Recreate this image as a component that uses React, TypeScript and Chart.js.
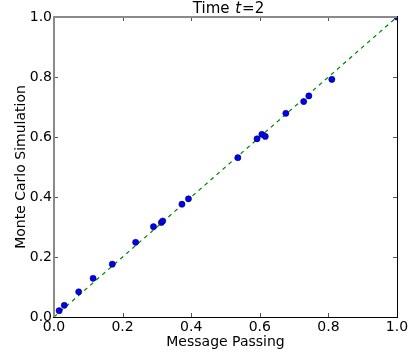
import React, { useEffect, useRef } from "react";
import { Chart, registerables } from "chart.js";

Chart.register(...registerables);

// Data
const messagePassing = [0.015, 0.030, 0.072, 0.114, 0.170, 0.238, 0.290, 0.313, 0.317, 0.373, 0.392, 0.536, 0.592, 0.606, 0.616, 0.676, 0.728, 0.743, 0.810, 1.0];
const monteCarlo = [0.021, 0.039, 0.084, 0.129, 0.176, 0.249, 0.301, 0.315, 0.320, 0.376, 0.394, 0.531, 0.594, 0.609, 0.602, 0.679, 0.718, 0.737, 0.792, 1.0];
const diagonalX = [0, 1];
const diagonalY = [0, 1];
const tickValues = [0, 0.2, 0.4, 0.6, 0.8, 1.0];
const tickLabels = ["0.0", "0.2", "0.4", "0.6", "0.8", "1.0"];
const titleParts = ["Time ", "t", "=2"];
const xLabel = "Message Passing";
const yLabel = "Monte Carlo Simulation";

const FONT = "'DejaVu Sans', sans-serif";

const framePlugin = {
  id: "framePlugin",
  afterDraw(chart: any) {
    const { ctx, chartArea } = chart;
    const { left, right, top, bottom } = chartArea;
    const xs = chart.scales.x;
    const ys = chart.scales.y;
    ctx.save();
    // ticks (inward)
    ctx.strokeStyle = "#555";
    ctx.lineWidth = 1;
    ctx.beginPath();
    tickValues.forEach((v) => {
      const px = Math.round(xs.getPixelForValue(v)) + 0.5;
      const py = Math.round(ys.getPixelForValue(v)) + 0.5;
      ctx.moveTo(px, bottom);
      ctx.lineTo(px, bottom - 4);
      ctx.moveTo(px, top);
      ctx.lineTo(px, top + 4);
      ctx.moveTo(left, py);
      ctx.lineTo(left + 4, py);
      ctx.moveTo(right, py);
      ctx.lineTo(right - 4, py);
    });
    ctx.stroke();
    // spines
    ctx.fillStyle = "#8a8a8a";
    ctx.fillRect(left - 1, top - 1, 2, bottom - top + 1);
    ctx.fillRect(left - 1, top - 1, right - left + 1, 2);
    ctx.fillStyle = "#000";
    ctx.fillRect(left - 1, bottom, right - left + 2, 1);
    ctx.fillRect(right, top - 1, 1, bottom - top + 2);

    // tick labels
    ctx.fillStyle = "#000";
    ctx.font = `14px ${FONT}`;
    ctx.textAlign = "center";
    ctx.textBaseline = "alphabetic";
    tickValues.forEach((v, i) => {
      ctx.fillText(tickLabels[i], xs.getPixelForValue(v), 331);
    });
    ctx.textAlign = "right";
    ctx.textBaseline = "middle";
    tickValues.forEach((v, i) => {
      ctx.fillText(tickLabels[i], left - 2, ys.getPixelForValue(v) + 0.5);
    });

    // title
    ctx.textBaseline = "alphabetic";
    ctx.textAlign = "left";
    const fonts = [`15px ${FONT}`, `italic 15px ${FONT}`, `15px ${FONT}`];
    let total = 0;
    const widths = titleParts.map((p, i) => {
      ctx.font = fonts[i];
      const w = ctx.measureText(p).width + (i === 1 ? 2 : 0);
      total += w;
      return w;
    });
    let x = (left + right) / 2 - total / 2 + 3;
    titleParts.forEach((p, i) => {
      ctx.font = fonts[i];
      ctx.fillText(p, x + (i === 1 ? 1 : 0), 13);
      x += widths[i];
    });

    // x label
    ctx.font = `14px ${FONT}`;
    ctx.textAlign = "center";
    ctx.fillText(xLabel, (left + right) / 2, 346);

    // y label
    ctx.translate(24.5, (top + bottom) / 2);
    ctx.rotate(-Math.PI / 2);
    ctx.fillText(yLabel, 0, 0);
    ctx.restore();
  },
};

export default function App() {
  const ref = useRef<HTMLCanvasElement>(null);
  useEffect(() => {
    document.body.style.margin = "0";
    const canvas = ref.current!;
    const chart = new Chart(canvas, {
      type: "scatter",
      data: {
        datasets: [
          {
            type: "line",
            data: diagonalX.map((x, i) => ({ x, y: diagonalY[i] })),
            borderColor: "#008000",
            borderWidth: 1.2,
            borderDash: [4, 4],
            pointRadius: 0,
            fill: false,
            clip: 0,
            order: 2,
          } as any,
          {
            data: messagePassing.map((x, i) => ({ x, y: monteCarlo[i] })),
            backgroundColor: "#0000ff",
            borderColor: "#000000",
            borderWidth: 0.5,
            pointRadius: 3.1,
            clip: 0,
            order: 1,
          } as any,
        ],
      },
      options: {
        responsive: false,
        animation: false,
        layout: { padding: { top: 17, right: 19, left: 0, bottom: 0 } },
        plugins: { legend: { display: false }, tooltip: { enabled: false }, title: { display: false } },
        scales: {
          x: {
            type: "linear",
            min: 0,
            max: 1,
            grid: { display: false },
            border: { display: false },
            afterBuildTicks: (s: any) => {
              s.ticks = tickValues.map((v) => ({ value: v }));
            },
            afterFit: (s: any) => {
              s.height = 38;
            },
            ticks: { display: false },
          },
          y: {
            type: "linear",
            min: 0,
            max: 1,
            grid: { display: false },
            border: { display: false },
            afterBuildTicks: (s: any) => {
              s.ticks = tickValues.map((v) => ({ value: v }));
            },
            afterFit: (s: any) => {
              s.width = 54;
            },
            ticks: { display: false },
          },
        },
      },
      plugins: [framePlugin],
    });
    return () => chart.destroy();
  }, []);
  return (
    <div style={{ width: 416, height: 355, background: "#fff" }}>
      <canvas ref={ref} width={416} height={355} />
    </div>
  );
}
